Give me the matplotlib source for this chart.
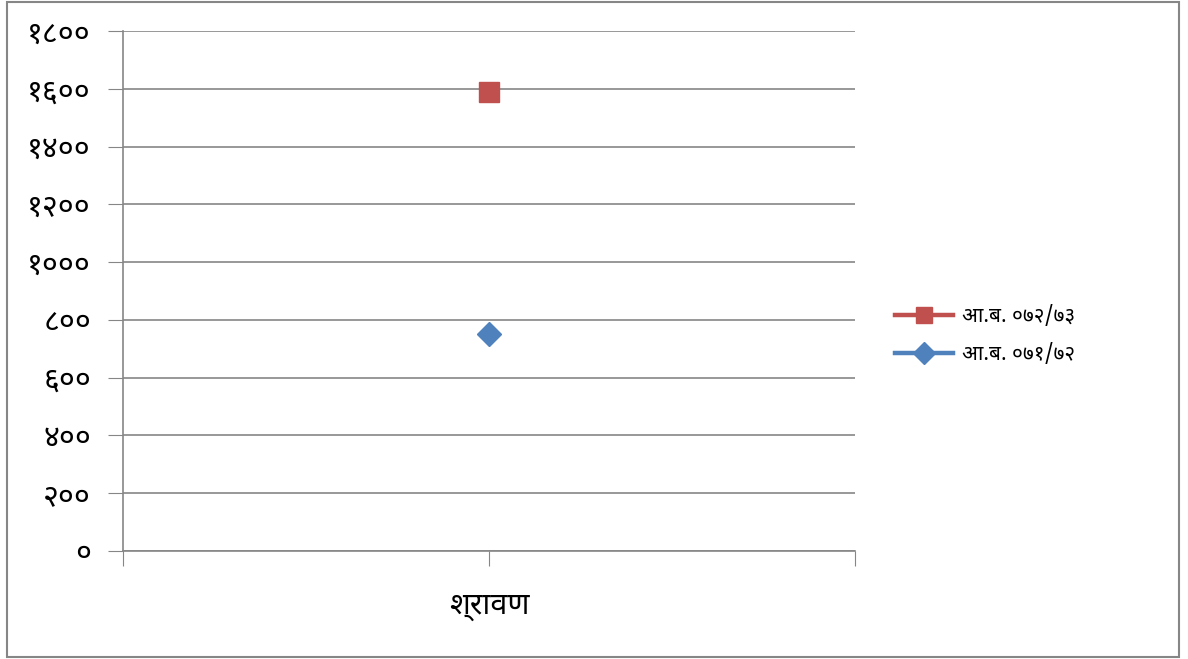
import matplotlib
matplotlib.use('Agg')
import matplotlib.pyplot as plt
from matplotlib import font_manager
from matplotlib.lines import Line2D

categories = ['श्रावण']
series_names = ['आ.ब. ०७२/७३', 'आ.ब. ०७१/७२']
values_7273 = [1590]
values_7172 = [750]
yticks = [0, 200, 400, 600, 800, 1000, 1200, 1400, 1600, 1800]

# pick a regular-weight devanagari font that is installed
names = {f.name for f in font_manager.fontManager.ttflist}
deva_font = None
for cand in ['Noto Sans Devanagari', 'Hind', 'Mukta', 'Noto Sans Devanagari UI',
             'Martel Sans', 'Sarala', 'Palanquin']:
    if cand in names:
        deva_font = cand
        break
plt.rcParams['font.family'] = ([deva_font] if deva_font else []) + ['DejaVu Sans']
plt.rcParams['font.weight'] = 'normal'

digits = '०१२३४५६७८९'
def deva(n):
    return ''.join(digits[int(c)] for c in str(n))

fig = plt.figure(figsize=(11.88, 6.59), dpi=100)
ax = fig.add_axes([123/1188, 1-551/659, (855-123)/1188, (551-31)/659])

red = '#c0504d'
blue = '#4f81bd'
grid = '#868686'

ax.plot([0.5], values_7273, marker='s', markersize=15, color=red, linestyle='none')
ax.plot([0.5], values_7172, marker='D', markersize=12, color=blue, linestyle='none')

ax.set_xlim(0, 1)
ax.set_ylim(0, 1800)
ax.set_yticks(yticks)
ax.set_yticklabels([deva(v) for v in yticks], fontsize=22)
ax.set_xticks([0, 0.5, 1])
ax.set_xticklabels(['', categories[0], ''], fontsize=22)
ax.tick_params(axis='y', length=11, color=grid, pad=12)
ax.tick_params(axis='x', length=11, color=grid, pad=18)
ax.yaxis.grid(True, color=grid, linewidth=1.2)
ax.set_axisbelow(True)
for s in ['top', 'right']:
    ax.spines[s].set_visible(False)
for s in ['left', 'bottom']:
    ax.spines[s].set_color(grid)
    ax.spines[s].set_linewidth(1.2)

handles = [Line2D([], [], color=red, lw=3.2, marker='s', markersize=12),
           Line2D([], [], color=blue, lw=3.2, marker='D', markersize=11)]
fig.legend(handles, series_names, loc='center left', frameon=False,
           bbox_to_anchor=(876/1188, 1-335/659), fontsize=15,
           handlelength=2.8, labelspacing=0.75, handletextpad=0.45)

fig.patches.append(plt.Rectangle((7/1188, 2/659), 1172/1188, 655/659,
                                 transform=fig.transFigure, fill=False,
                                 edgecolor='#868686', linewidth=1.5))

fig.savefig('out.png', dpi=100)
